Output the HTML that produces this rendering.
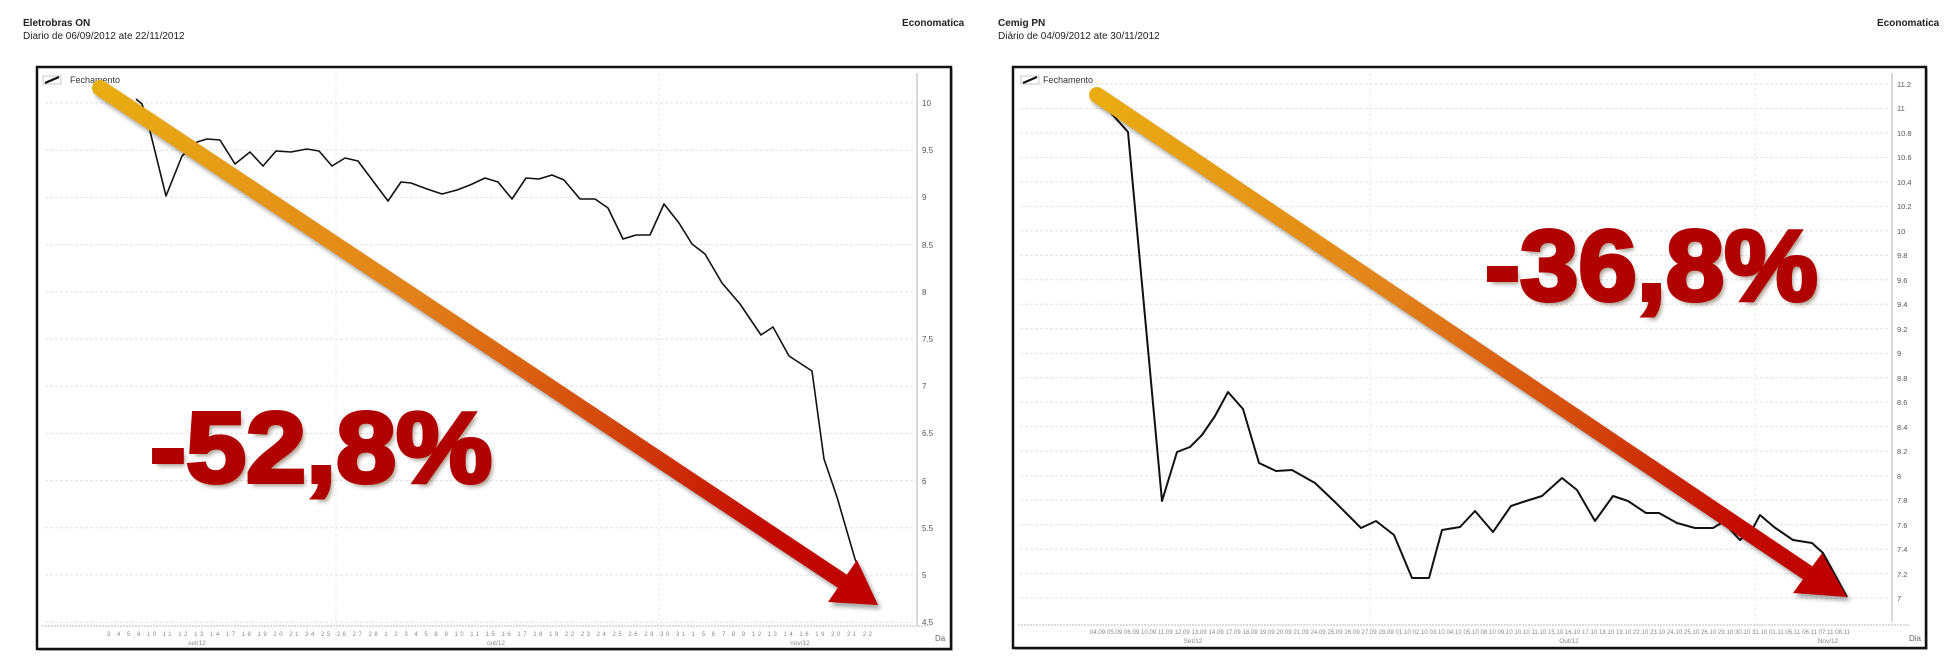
<!DOCTYPE html>
<html>
<head>
<meta charset="utf-8">
<style>
  html,body{margin:0;padding:0;background:#fff;}
  body{width:1951px;height:665px;position:relative;overflow:hidden;font-family:"Liberation Sans",Arial,sans-serif;}
  svg{position:absolute;left:0;top:0;}
  .big{position:absolute;font-family:"Liberation Sans",Arial,sans-serif;font-weight:bold;font-size:100px;line-height:100px;color:#b00000;white-space:nowrap;transform-origin:0 0;
    -webkit-text-stroke:4px #b00000;
    text-shadow:1.5px 1.5px 0 #e3a030,-1px -1px 0 #e3a030,1px -1px 0 #e0a030,-1px 1px 0 #e0a030,3px 4px 4px rgba(60,30,0,0.45);}
</style>
</head>
<body>
<svg width="1951" height="665" viewBox="0 0 1951 665" xmlns="http://www.w3.org/2000/svg">
  <defs>
    <linearGradient id="gL" gradientUnits="userSpaceOnUse" x1="100" y1="88" x2="878" y2="605">
      <stop offset="0" stop-color="#e9ad12"/>
      <stop offset="0.4" stop-color="#e2821a"/>
      <stop offset="0.65" stop-color="#d4480c"/>
      <stop offset="0.85" stop-color="#c40c02"/>
      <stop offset="1" stop-color="#bd0000"/>
    </linearGradient>
    <linearGradient id="gR" gradientUnits="userSpaceOnUse" x1="1097" y1="95" x2="1847" y2="597">
      <stop offset="0" stop-color="#e9ad12"/>
      <stop offset="0.4" stop-color="#e2821a"/>
      <stop offset="0.65" stop-color="#d4480c"/>
      <stop offset="0.85" stop-color="#c40c02"/>
      <stop offset="1" stop-color="#bd0000"/>
    </linearGradient>
    <filter id="sh" x="-10%" y="-10%" width="120%" height="120%">
      <feGaussianBlur stdDeviation="2"/>
    </filter>
  </defs>

  <!-- Headers -->
  <g font-family="Liberation Sans, Arial, sans-serif" fill="#222">
    <text x="23" y="26" font-size="10" font-weight="bold">Eletrobras ON</text>
    <text x="23" y="39" font-size="10">Diario de 06/09/2012 ate 22/11/2012</text>
    <text x="902" y="26" font-size="10" font-weight="bold">Economatica</text>
    <text x="998" y="26" font-size="10" font-weight="bold">Cemig PN</text>
    <text x="998" y="39" font-size="10">Diário de 04/09/2012 ate 30/11/2012</text>
    <text x="1877" y="26" font-size="10" font-weight="bold">Economatica</text>
  </g>

  <!-- ================= LEFT CHART ================= -->
  <rect x="39" y="69" width="914" height="582" fill="#9a9a9a" opacity="0.5"/>
  <rect x="37" y="67" width="914" height="582" fill="#fff" stroke="#111" stroke-width="2.5"/>
  <g stroke="#e2e2e2" stroke-width="1" stroke-dasharray="3 2">
    <line x1="45" y1="103" x2="915" y2="103"/>
    <line x1="45" y1="150.2" x2="915" y2="150.2"/>
    <line x1="45" y1="197.4" x2="915" y2="197.4"/>
    <line x1="45" y1="244.6" x2="915" y2="244.6"/>
    <line x1="45" y1="291.8" x2="915" y2="291.8"/>
    <line x1="45" y1="339" x2="915" y2="339"/>
    <line x1="45" y1="386.2" x2="915" y2="386.2"/>
    <line x1="45" y1="433.4" x2="915" y2="433.4"/>
    <line x1="45" y1="480.6" x2="915" y2="480.6"/>
    <line x1="45" y1="527.8" x2="915" y2="527.8"/>
    <line x1="45" y1="575" x2="915" y2="575"/>
    <line x1="45" y1="622.2" x2="915" y2="622.2"/>
  </g>
  <g stroke="#ebebeb" stroke-width="1" stroke-dasharray="3 2">
    <line x1="336" y1="73" x2="336" y2="640"/>
    <line x1="659" y1="73" x2="659" y2="640"/>
  </g>
  <line x1="42" y1="626" x2="930" y2="626" stroke="#d0d0d0" stroke-width="1.5" stroke-dasharray="2 1"/>
  <line x1="917" y1="73" x2="917" y2="626" stroke="#cccccc" stroke-width="1.5"/>
  <g font-family="Liberation Sans, Arial, sans-serif" font-size="8" fill="#555">
    <text x="922" y="106">10</text>
    <text x="922" y="153">9.5</text>
    <text x="922" y="200">9</text>
    <text x="922" y="248">8.5</text>
    <text x="922" y="295">8</text>
    <text x="922" y="342">7.5</text>
    <text x="922" y="389">7</text>
    <text x="922" y="436">6.5</text>
    <text x="922" y="484">6</text>
    <text x="922" y="531">5.5</text>
    <text x="922" y="578">5</text>
    <text x="922" y="625">4.5</text>
  </g>
  <g font-family="Liberation Sans, Arial, sans-serif" fill="#888">
    <text x="107" y="636" font-size="6" textLength="765" lengthAdjust="spacing">3 4 5 6 10 11 12 13 14 17 18 19 20 21 24 25 26 27 28 1 2 3 4 5 8 9 10 11 15 16 17 18 19 22 23 24 25 26 29 30 31 1 5 6 7 8 9 12 13 14 16 19 20 21 22</text>
    <text x="197" y="645" font-size="6.5" text-anchor="middle">set/12</text>
    <text x="496" y="645" font-size="6.5" text-anchor="middle">out/12</text>
    <text x="800" y="645" font-size="6.5" text-anchor="middle">nov/12</text>
    <text x="935" y="641" font-size="8" fill="#666">Da</text>
  </g>
  <rect x="43" y="76" width="18" height="8" fill="#fff" stroke="#bbb" stroke-width="0.8"/>
  <line x1="45" y1="83" x2="59" y2="77" stroke="#111" stroke-width="2.2"/>
  <text x="70" y="83" font-family="Liberation Sans, Arial, sans-serif" font-size="9" fill="#333">Fechamento</text>
  <polyline fill="none" stroke="#111" stroke-width="1.6" stroke-linejoin="round"
    points="136,99 142,104 148,123 166,196 182,156 197,142 207,139 220,140 235,164 250,152 263,166 276,151 291,152 307,149 319,151 332,166 345,158 358,161 370,177 388,201 401,182 411,183 427,189 442,194 457,190 470,185 485,178 498,182 512,199 526,178 539,179 552,175 564,180 580,199 595,199 608,208 623,239 636,235 650,235 664,204 679,223 692,244 705,254 722,283 740,304 761,335 773,327 789,356 812,371 824,459 837,497 855,559 872,600"/>
  <g filter="url(#sh)" opacity="0.35">
    <line x1="103" y1="92" x2="845" y2="585" stroke="#000" stroke-width="16" stroke-linecap="round"/>
    <polygon points="831,606 860,564 881,609" fill="#000"/>
  </g>
  <line x1="100" y1="88" x2="842" y2="581" stroke="url(#gL)" stroke-width="16" stroke-linecap="round"/>
  <polygon points="828,602 857,560 878,605" fill="#bf0000"/>

  <!-- ================= RIGHT CHART ================= -->
  <rect x="1015" y="69" width="913" height="581" fill="#9a9a9a" opacity="0.5"/>
  <rect x="1013" y="67" width="913" height="581" fill="#fff" stroke="#111" stroke-width="2.5"/>
  <g stroke="#e2e2e2" stroke-width="1" stroke-dasharray="3 2">
    <line x1="1020" y1="84" x2="1890" y2="84"/>
    <line x1="1020" y1="108.5" x2="1890" y2="108.5"/>
    <line x1="1020" y1="133" x2="1890" y2="133"/>
    <line x1="1020" y1="157.4" x2="1890" y2="157.4"/>
    <line x1="1020" y1="181.9" x2="1890" y2="181.9"/>
    <line x1="1020" y1="206.4" x2="1890" y2="206.4"/>
    <line x1="1020" y1="230.9" x2="1890" y2="230.9"/>
    <line x1="1020" y1="255.4" x2="1890" y2="255.4"/>
    <line x1="1020" y1="279.8" x2="1890" y2="279.8"/>
    <line x1="1020" y1="304.3" x2="1890" y2="304.3"/>
    <line x1="1020" y1="328.8" x2="1890" y2="328.8"/>
    <line x1="1020" y1="353.3" x2="1890" y2="353.3"/>
    <line x1="1020" y1="377.8" x2="1890" y2="377.8"/>
    <line x1="1020" y1="402.2" x2="1890" y2="402.2"/>
    <line x1="1020" y1="426.7" x2="1890" y2="426.7"/>
    <line x1="1020" y1="451.2" x2="1890" y2="451.2"/>
    <line x1="1020" y1="475.7" x2="1890" y2="475.7"/>
    <line x1="1020" y1="500.2" x2="1890" y2="500.2"/>
    <line x1="1020" y1="524.6" x2="1890" y2="524.6"/>
    <line x1="1020" y1="549.1" x2="1890" y2="549.1"/>
    <line x1="1020" y1="573.6" x2="1890" y2="573.6"/>
    <line x1="1020" y1="598.1" x2="1890" y2="598.1"/>
  </g>
  <g stroke="#ebebeb" stroke-width="1" stroke-dasharray="3 2">
    <line x1="1370" y1="73" x2="1370" y2="640"/>
    <line x1="1755" y1="73" x2="1755" y2="640"/>
  </g>
  <line x1="1018" y1="625" x2="1910" y2="625" stroke="#d0d0d0" stroke-width="1.5" stroke-dasharray="2 1"/>
  <line x1="1892" y1="73" x2="1892" y2="622" stroke="#cccccc" stroke-width="1.5"/>
  <g font-family="Liberation Sans, Arial, sans-serif" font-size="7.5" fill="#555">
    <text x="1897" y="87">11.2</text>
    <text x="1897" y="111">11</text>
    <text x="1897" y="136">10.8</text>
    <text x="1897" y="160">10.6</text>
    <text x="1897" y="185">10.4</text>
    <text x="1897" y="209">10.2</text>
    <text x="1897" y="234">10</text>
    <text x="1897" y="258">9.8</text>
    <text x="1897" y="283">9.6</text>
    <text x="1897" y="307">9.4</text>
    <text x="1897" y="332">9.2</text>
    <text x="1897" y="356">9</text>
    <text x="1897" y="381">8.8</text>
    <text x="1897" y="405">8.6</text>
    <text x="1897" y="430">8.4</text>
    <text x="1897" y="454">8.2</text>
    <text x="1897" y="479">8</text>
    <text x="1897" y="503">7.8</text>
    <text x="1897" y="528">7.6</text>
    <text x="1897" y="552">7.4</text>
    <text x="1897" y="577">7.2</text>
    <text x="1897" y="601">7</text>
  </g>
  <g font-family="Liberation Sans, Arial, sans-serif" fill="#888">
    <text x="1090" y="634" font-size="6" textLength="760" lengthAdjust="spacing">04.09 05.09 06.09 10.09 11.09 12.09 13.09 14.09 17.09 18.09 19.09 20.09 21.09 24.09 25.09 26.09 27.09 28.09 01.10 02.10 03.10 04.10 05.10 08.10 09.10 10.10 11.10 15.10 16.10 17.10 18.10 19.10 22.10 23.10 24.10 25.10 26.10 29.10 30.10 31.10 01.11 05.11 06.11 07.11 08.11</text>
    <text x="1193" y="643" font-size="6.5" text-anchor="middle">Set/12</text>
    <text x="1569" y="643" font-size="6.5" text-anchor="middle">Out/12</text>
    <text x="1828" y="643" font-size="6.5" text-anchor="middle">Nov/12</text>
    <text x="1909" y="641" font-size="8" fill="#666">Dia</text>
  </g>
  <rect x="1021" y="76" width="18" height="8" fill="#fff" stroke="#bbb" stroke-width="0.8"/>
  <line x1="1023" y1="83" x2="1037" y2="77" stroke="#111" stroke-width="2.2"/>
  <text x="1043" y="83" font-family="Liberation Sans, Arial, sans-serif" font-size="9" fill="#333">Fechamento</text>
  <polyline fill="none" stroke="#111" stroke-width="2" stroke-linejoin="round"
    points="1095,97 1111,113 1128,132 1162,501 1177,452 1190,447 1202,435 1215,416 1228,392 1243,409 1259,463 1276,471 1292,470 1315,483 1335,502 1361,528 1376,521 1394,535 1412,578 1429,578 1442,530 1460,527 1475,511 1493,532 1511,506 1526,501 1542,496 1562,478 1577,490 1595,521 1613,496 1628,501 1646,513 1659,513 1677,523 1695,528 1713,528 1723,522 1740,540 1753,528 1760,515 1774,527 1793,540 1812,543 1823,553 1847,597"/>
  <g filter="url(#sh)" opacity="0.35">
    <line x1="1100" y1="99" x2="1811" y2="577" stroke="#000" stroke-width="16" stroke-linecap="round"/>
    <polygon points="1796,597 1825,557 1850,601" fill="#000"/>
  </g>
  <line x1="1097" y1="95" x2="1808" y2="573" stroke="url(#gR)" stroke-width="16" stroke-linecap="round"/>
  <polygon points="1793,593 1822,553 1847,597" fill="#bf0000"/>
</svg>

<div class="big" style="left:150px;top:398px;transform:scaleX(1.08);">-52,8%</div>
<div class="big" style="left:1485px;top:216px;transform:scaleX(1.05);">-36,8%</div>
</body>
</html>
